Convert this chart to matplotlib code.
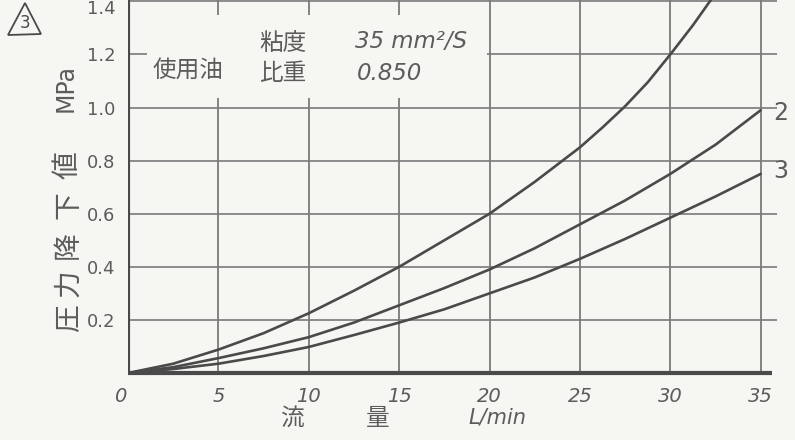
import matplotlib
matplotlib.use("Agg")
import matplotlib.pyplot as plt
from matplotlib.patches import Polygon, Rectangle
from matplotlib.transforms import ScaledTranslation

# ---- data ----
flow1 = [0, 2.5, 5, 7.5, 10, 12.5, 15, 17.5, 20, 22.5, 25, 26.25, 27.5, 28.75, 30, 31.25, 32.5]
curve1 = [0, 0.035, 0.088, 0.15, 0.225, 0.31, 0.40, 0.50, 0.60, 0.72, 0.85, 0.925, 1.005, 1.095, 1.20, 1.31, 1.43]
flow = [0, 2.5, 5, 7.5, 10, 12.5, 15, 17.5, 20, 22.5, 25, 27.5, 30, 32.5, 35]
curve2 = [0, 0.022, 0.056, 0.093, 0.135, 0.19, 0.255, 0.32, 0.39, 0.47, 0.56, 0.65, 0.75, 0.86, 0.99]
curve3 = [0, 0.015, 0.035, 0.064, 0.098, 0.143, 0.19, 0.24, 0.30, 0.36, 0.43, 0.505, 0.585, 0.665, 0.75]
curve_labels = ["", "2", "3"]
xticks = [0, 5, 10, 15, 20, 25, 30, 35]
yticks = [0.2, 0.4, 0.6, 0.8, 1.0, 1.2, 1.4]
ytick_labels = ["0.2", "0.4", "0.6", "0.8", "1.0", "1.2", "1.4"]

PAPER = "#f6f6f3"
INK = "#4a4a4a"
GRID = "#7a7a7a"
TXT = "#5c5c5c"
CJK = ["Noto Sans CJK JP", "DejaVu Sans"]
W, H = 795, 440

fig = plt.figure(figsize=(W / 100, H / 100), dpi=100, facecolor=PAPER)

def fx(px):
    return px / W

def fy(py):
    return 1 - py / H

ax = fig.add_axes([fx(128), fy(373), fx(777) - fx(128), 373 / H])
ax.set_facecolor(PAPER)
ax.set_xlim(0, 35.9)
ax.set_ylim(0, 1.405)
for s in ax.spines.values():
    s.set_visible(False)

# grid
for xv in xticks[1:]:
    ax.axvline(xv, color=GRID, lw=1.3, zorder=1)
for yv in yticks:
    ax.axhline(yv, color=GRID, lw=1.2, zorder=1)
# axes lines
ax.axvline(0, color=INK, lw=3, zorder=4)
ax.plot([0, 35.6], [0, 0], color=INK, lw=3, zorder=4, clip_on=False, solid_capstyle="butt")

# curves
for xs, ys in ((flow1, curve1), (flow, curve2), (flow, curve3)):
    ax.plot(xs, ys, color=INK, lw=1.9, zorder=3, solid_capstyle="round",
            solid_joinstyle="round")

# ticks
ax.set_xticks(xticks)
ax.set_xticklabels([str(t) for t in xticks])
ax.set_yticks(yticks)
ax.set_yticklabels(ytick_labels)
ax.tick_params(length=0, labelcolor=TXT)
for lab in ax.get_xticklabels():
    lab.set_fontsize(14)
    lab.set_fontstyle("italic")
    lab.set_fontfamily("DejaVu Sans")
for lab in ax.get_yticklabels():
    lab.set_fontsize(13)
    lab.set_fontfamily("DejaVu Sans")
ax.tick_params(axis="y", pad=9)
ax.tick_params(axis="x", pad=10)
# keep the top label (1.4) inside the picture
top_lab = ax.get_yticklabels()[-1]
top_lab.set_transform(top_lab.get_transform() + ScaledTranslation(0, -6 / 100, fig.dpi_scale_trans))
# the 0 label sits slightly left of the axis
zero_lab = ax.get_xticklabels()[0]
zero_lab.set_transform(zero_lab.get_transform() + ScaledTranslation(-8 / 100, 0, fig.dpi_scale_trans))

# curve end labels
ax.text(35.7, curve2[-1] - 0.01, curve_labels[1], fontsize=17, color=TXT,
        va="center", ha="left", clip_on=False, family="DejaVu Sans")
ax.text(35.7, curve3[-1] + 0.01, curve_labels[2], fontsize=17, color=TXT,
        va="center", ha="left", clip_on=False, family="DejaVu Sans")

# paper-coloured patch behind note text
fig.patches.append(Rectangle((fx(147), fy(98)), fx(487) - fx(147), fy(15) - fy(98),
                             transform=fig.transFigure, facecolor=PAPER,
                             edgecolor="none", zorder=2))

# note text
fig.text(fx(188), fy(70), "使用油", family=CJK, fontsize=17, color=TXT, ha="center", va="center", zorder=5)
fig.text(fx(283), fy(44), "粘度", family=CJK, fontsize=17, color=TXT, ha="center", va="center", zorder=5)
fig.text(fx(283), fy(74), "比重", family=CJK, fontsize=17, color=TXT, ha="center", va="center", zorder=5)
fig.text(fx(355), fy(42), "35 mm²/S", family="DejaVu Sans", fontstyle="italic", fontsize=16.5,
         color=TXT, ha="left", va="center", zorder=5)
fig.text(fx(357), fy(73), "0.850", family="DejaVu Sans", fontstyle="italic", fontsize=16.5,
         color=TXT, ha="left", va="center", zorder=5)

# y axis label (characters spread like the hand lettering)
for ch, py in zip("圧力降下値", [318, 283, 245, 205, 165]):
    fig.text(fx(68), fy(py), ch, family=CJK, fontsize=20, color=TXT, rotation=90,
             ha="center", va="center")
fig.text(fx(66), fy(88), "MPa", family="DejaVu Sans", fontsize=17, color=TXT, rotation=90,
         ha="center", va="center")
# x axis label
fig.text(fx(292), fy(418), "流", family=CJK, fontsize=17, color=TXT, ha="center", va="center")
fig.text(fx(378), fy(418), "量", family=CJK, fontsize=17, color=TXT, ha="center", va="center")
fig.text(fx(468), fy(417), "L/min", family="DejaVu Sans", fontstyle="italic", fontsize=15,
         color=TXT, ha="left", va="center")

# triangle marker with 3
fig.patches.append(Polygon([[fx(25), fy(3)], [fx(8), fy(35)], [fx(41), fy(34)]], closed=True,
                           transform=fig.transFigure, facecolor="none", edgecolor=INK, lw=1.3))
fig.text(fx(25), fy(23), "3", fontsize=12, color=INK, ha="center", va="center", family="DejaVu Sans")

fig.savefig("out.png", dpi=100, facecolor=PAPER)
